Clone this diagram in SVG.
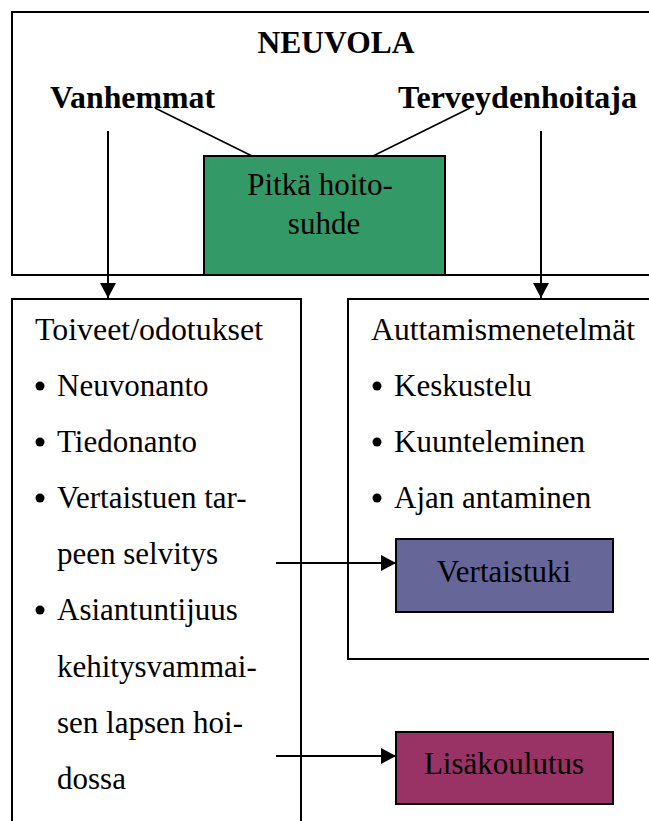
<svg xmlns="http://www.w3.org/2000/svg" width="649" height="821" viewBox="0 0 649 821">
<defs>
<style>
.box{fill:#fff;stroke:#000;stroke-width:2}
.t{font-family:"Liberation Serif","Times New Roman",serif;font-size:31px;fill:#000}
.b{font-family:"Liberation Serif","Times New Roman",serif;font-size:31.5px;font-weight:bold;fill:#000}
.ln{stroke:#000;stroke-width:1.6;fill:none}
.ar{stroke:#000;stroke-width:2;fill:none}
</style>
<marker id="ah" markerUnits="userSpaceOnUse" markerWidth="16" markerHeight="16" refX="15" refY="8" orient="auto">
<path d="M0,0 L15,8 L0,16 z" fill="#000"/>
</marker>
</defs>
<rect width="649" height="821" fill="#fff"/>
<g id="neuvola">
<rect class="box" x="12" y="12" width="660" height="263"/>
<text class="b" x="336" y="53" text-anchor="middle">NEUVOLA</text>
</g>
<g id="vanhemmat">
<text class="b" x="50" y="108" textLength="165" lengthAdjust="spacingAndGlyphs">Vanhemmat</text>
</g>
<g id="terveydenhoitaja">
<text class="b" x="398" y="108" textLength="239" lengthAdjust="spacingAndGlyphs">Terveydenhoitaja</text>
</g>
<g id="hoitosuhde">
<rect x="204" y="156" width="241" height="119" fill="#339966" stroke="#000" stroke-width="2"/>
<text class="t" x="320" y="195" text-anchor="middle">Pitkä hoito-</text>
<text class="t" x="324" y="234" text-anchor="middle">suhde</text>
</g>
<g id="toiveet">
<rect class="box" x="12" y="299" width="289" height="540"/>
<text class="t" x="35" y="340" textLength="228" lengthAdjust="spacingAndGlyphs">Toiveet/odotukset</text>
<circle cx="40" cy="386" r="4.5"/>
<text class="t" x="57" y="396">Neuvonanto</text>
<circle cx="40" cy="442" r="4.5"/>
<text class="t" x="57" y="452">Tiedonanto</text>
<circle cx="40" cy="498" r="4.5"/>
<text class="t" x="57" y="508">Vertaistuen tar-</text>
<text class="t" x="57" y="564">peen selvitys</text>
<circle cx="40" cy="610" r="4.5"/>
<text class="t" x="57" y="620">Asiantuntijuus</text>
<text class="t" x="57" y="677">kehitysvammai-</text>
<text class="t" x="57" y="733">sen lapsen hoi-</text>
<text class="t" x="57" y="789">dossa</text>
</g>
<g id="auttamismenetelmat">
<rect class="box" x="348" y="299" width="320" height="360"/>
<text class="t" x="371" y="340" textLength="264" lengthAdjust="spacingAndGlyphs">Auttamismenetelmät</text>
<circle cx="377" cy="386" r="4.5"/>
<text class="t" x="394" y="396">Keskustelu</text>
<circle cx="377" cy="442" r="4.5"/>
<text class="t" x="394" y="452">Kuunteleminen</text>
<circle cx="377" cy="498" r="4.5"/>
<text class="t" x="394" y="508">Ajan antaminen</text>
</g>
<g id="vertaistuki">
<rect x="396" y="539" width="217" height="73" fill="#666699" stroke="#000" stroke-width="2"/>
<text class="t" x="504" y="582" text-anchor="middle">Vertaistuki</text>
</g>
<g id="lisakoulutus">
<rect x="396" y="732" width="217" height="72" fill="#993366" stroke="#000" stroke-width="2"/>
<text class="t" x="504" y="774" text-anchor="middle">Lisäkoulutus</text>
</g>
<g id="connectors">
<line class="ln" x1="155" y1="108" x2="252" y2="156"/>
<line class="ln" x1="470" y1="108" x2="373" y2="156"/>
<line class="ar" x1="108" y1="131" x2="108" y2="298" marker-end="url(#ah)"/>
<line class="ar" x1="541" y1="131" x2="541" y2="298" marker-end="url(#ah)"/>
<line class="ar" x1="276" y1="563" x2="396" y2="563" marker-end="url(#ah)"/>
<line class="ar" x1="276" y1="756" x2="396" y2="756" marker-end="url(#ah)"/>
</g>
</svg>
